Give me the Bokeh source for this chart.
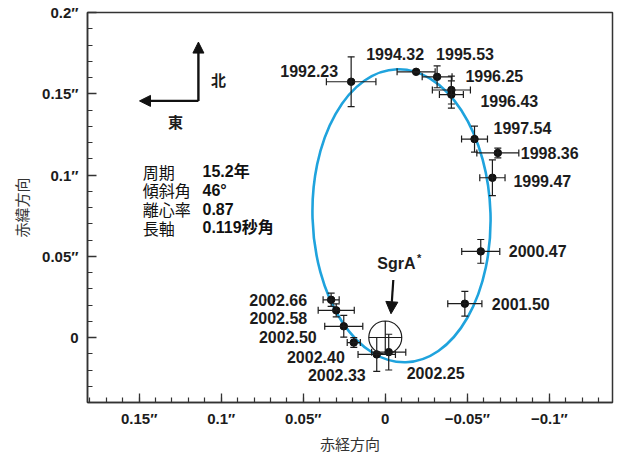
from bokeh.plotting import figure
from bokeh.models import (ColumnDataSource, Whisker, TeeHead, Range1d, FixedTicker,
                          Arrow, NormalHead, Label)
from bokeh.core.properties import value
from bokeh.embed import file_html
from bokeh.resources import INLINE

# ---------------- data ----------------
epochs = ["1992.23", "1994.32", "1995.53", "1996.25", "1996.43", "1997.54",
          "1998.36", "1999.47", "2000.47", "2001.50", "2002.66", "2002.58",
          "2002.50", "2002.40", "2002.33", "2002.25"]
ra = [0.0208, -0.0188, -0.0316, -0.0403, -0.0403, -0.0544,
      -0.0686, -0.0653, -0.0582, -0.0485, 0.0330, 0.0299,
      0.0253, 0.0192, 0.0052, -0.0021]
dec = [0.1574, 0.1635, 0.1604, 0.1523, 0.1495, 0.1221,
       0.1136, 0.0983, 0.0530, 0.0208, 0.0232, 0.0167,
       0.0069, -0.0031, -0.0104, -0.0090]
ra_err = [0.0151, 0.0116, 0.0091, 0.0116, 0.0073, 0.0079,
          0.0128, 0.0077, 0.0116, 0.0104, 0.0049, 0.0110,
          0.0116, 0.0040, 0.0114, 0.0104]
dec_err = [0.0153, 0.0, 0.0067, 0.0086, 0.0084, 0.0080,
           0.0030, 0.0110, 0.0073, 0.0076, 0.0041, 0.0040,
           0.0067, 0.0030, 0.0104, 0.0110]

# fitted orbit (ellipse on sky)
orbit_ra = [-0.0099]
orbit_dec = [0.0749]
orbit_width = [0.1085]
orbit_height = [0.1804]
orbit_tilt = 0.03

# central black hole
sgr_ra = [0.0]
sgr_dec = [0.0]

orbit_param_names = ["周期", "傾斜角", "離心率", "長軸"]
orbit_param_values = ["15.2年", "46°", "0.87", "0.119秒角"]

x_ticks = [0.15, 0.1, 0.05, 0, -0.05, -0.1]
x_tick_labels = ["0.15″", "0.1″", "0.05″", "0", "−0.05″", "−0.1″"]
y_ticks = [0, 0.05, 0.1, 0.15, 0.2]
y_tick_labels = ["0", "0.05″", "0.1″", "0.15″", "0.2″"]

# ---------------- layout / style ----------------
label_dx = [-13, -21, -1, 14, 29, 19, 23, 21, 28, 27, -24, -29, -27, -9, -11, 18]
label_dy = [-11, -18, -23, -14, 6, -11, 0, 3, 0, 0, 0, 8, 11, 14, 21, 21]
label_align = ["right", "center", "left", "left", "left", "left", "left", "left",
               "left", "left", "right", "right", "right", "right", "right", "left"]

INK = "#1c1c1c"
ORBIT_COLOR = "#1fa3dd"
NUM_FONT = "Liberation Sans"
JP_FONT = "Noto Sans CJK JP"
MIXED_FONT = "Liberation Sans, Noto Sans CJK JP"

src = ColumnDataSource(dict(
    ra=ra, dec=dec,
    ra_lo=[a - e for a, e in zip(ra, ra_err)], ra_hi=[a + e for a, e in zip(ra, ra_err)],
    dec_lo=[a - e for a, e in zip(dec, dec_err)], dec_hi=[a + e for a, e in zip(dec, dec_err)],
    epoch=epochs, dx=label_dx, dy=label_dy, align=label_align,
))

p = figure(width=618, height=455,
           x_range=Range1d(0.1815, -0.1385), y_range=Range1d(-0.04, 0.2),
           output_backend="svg", toolbar_location=None,
           min_border_left=87, min_border_right=6, min_border_top=12, min_border_bottom=51)
p.grid.grid_line_color = None
p.outline_line_color = "#333333"
p.outline_line_width = 1.5
p.background_fill_color = "white"
p.border_fill_color = "white"

p.xaxis.ticker = FixedTicker(ticks=x_ticks,
                             minor_ticks=[round(-0.13 + 0.01 * i, 2) for i in range(32)])
p.yaxis.ticker = FixedTicker(ticks=y_ticks,
                             minor_ticks=[round(-0.03 + 0.01 * i, 2) for i in range(23)])
p.xaxis.major_label_overrides = dict(zip(x_ticks, x_tick_labels))
p.yaxis.major_label_overrides = dict(zip(y_ticks, y_tick_labels))
p.xaxis.axis_label = "赤経方向"
p.yaxis.axis_label = "赤緯方向"

for ax in (p.xaxis[0], p.yaxis[0]):
    ax.axis_line_color = "#333333"
    ax.axis_line_width = 1.5
    ax.major_tick_in = 9
    ax.major_tick_out = 0
    ax.minor_tick_in = 5
    ax.minor_tick_out = 0
    ax.major_tick_line_color = "#333333"
    ax.major_tick_line_width = 1.3
    ax.minor_tick_line_color = "#333333"
    ax.minor_tick_line_width = 1.2
    ax.major_label_text_font = NUM_FONT
    ax.major_label_text_font_style = "bold"
    ax.major_label_text_font_size = "15px"
    ax.major_label_text_color = INK
    ax.axis_label_text_font = MIXED_FONT
    ax.axis_label_text_font_style = "normal"
    ax.axis_label_text_font_size = "15px"
    ax.axis_label_text_color = "#333333"

p.xaxis.major_label_standoff = 7
p.xaxis.axis_label_standoff = 6
p.yaxis.major_label_standoff = 9
p.yaxis.axis_label_standoff = 8

# orbit
orb = p.ellipse(x=orbit_ra, y=orbit_dec, width=orbit_width, height=orbit_height,
                angle=orbit_tilt, fill_color=None, line_color=ORBIT_COLOR, line_width=2.6)
orb.level = "underlay"

# error bars
for base, lo, hi, dim in (("dec", "ra_lo", "ra_hi", "width"), ("ra", "dec_lo", "dec_hi", "height")):
    w = Whisker(base=base, lower=lo, upper=hi, dimension=dim, source=src,
                line_color=INK, line_width=1.2,
                upper_head=TeeHead(size=7, line_color=INK, line_width=1.2),
                lower_head=TeeHead(size=7, line_color=INK, line_width=1.2))
    w.level = "glyph"
    p.add_layout(w)

p.scatter("ra", "dec", source=src, size=7.5, color="#111111")

p.text(x="ra", y="dec", text="epoch", source=src, x_offset="dx", y_offset="dy",
       text_align="align", text_baseline="middle", text_font=value(NUM_FONT),
       text_font_style="bold", text_font_size="16px", text_color=INK)

# SgrA*
p.scatter(x=sgr_ra, y=sgr_dec, marker="circle_cross", size=33, fill_color=None,
          line_color=INK, line_width=1.2)
p.add_layout(Arrow(end=NormalHead(size=12, fill_color="#111111", line_color="#111111"),
                   x_start=-0.0049, y_start=0.0354, x_end=-0.0035, y_end=0.0146,
                   line_width=2.2, line_color="#111111"))
p.add_layout(Label(x=0.0049, y=0.0453, text="SgrA", text_align="left", text_baseline="middle",
                   text_font=NUM_FONT, text_font_style="bold", text_font_size="16px",
                   text_color=INK))
p.add_layout(Label(x=-0.0193, y=0.0488, text="*", text_align="left", text_baseline="middle",
                   text_font=NUM_FONT, text_font_style="bold", text_font_size="11px",
                   text_color=INK))

# compass
cx, cy = 0.1139, 0.1456
p.add_layout(Arrow(end=NormalHead(size=11, fill_color="#111111", line_color="#111111"),
                   x_start=cx, y_start=cy, x_end=cx, y_end=0.1818,
                   line_width=2.4, line_color="#111111"))
p.add_layout(Arrow(end=NormalHead(size=11, fill_color="#111111", line_color="#111111"),
                   x_start=cx, y_start=cy, x_end=0.1498, y_end=cy,
                   line_width=2.4, line_color="#111111"))
p.add_layout(Label(x=0.1016, y=0.1585, text="北", text_align="center", text_baseline="middle",
                   text_font=JP_FONT, text_font_style="bold", text_font_size="15px",
                   text_color=INK))
p.add_layout(Label(x=0.1279, y=0.1327, text="東", text_align="center", text_baseline="middle",
                   text_font=JP_FONT, text_font_style="bold", text_font_size="15px",
                   text_color=INK))

# orbital parameters block
row_y = [0.1021, 0.0905, 0.0789, 0.0674]
for name, val, yy in zip(orbit_param_names, orbit_param_values, row_y):
    p.add_layout(Label(x=0.1479, y=yy, text=name, text_align="left", text_baseline="middle",
                       text_font=JP_FONT, text_font_size="16px", text_color="#111111"))
    p.add_layout(Label(x=0.1114, y=yy, text=val, text_align="left", text_baseline="middle",
                       text_font=MIXED_FONT, text_font_style="bold", text_font_size="16px",
                       text_color="#111111"))

open("out.html", "w").write(file_html(p, INLINE))
